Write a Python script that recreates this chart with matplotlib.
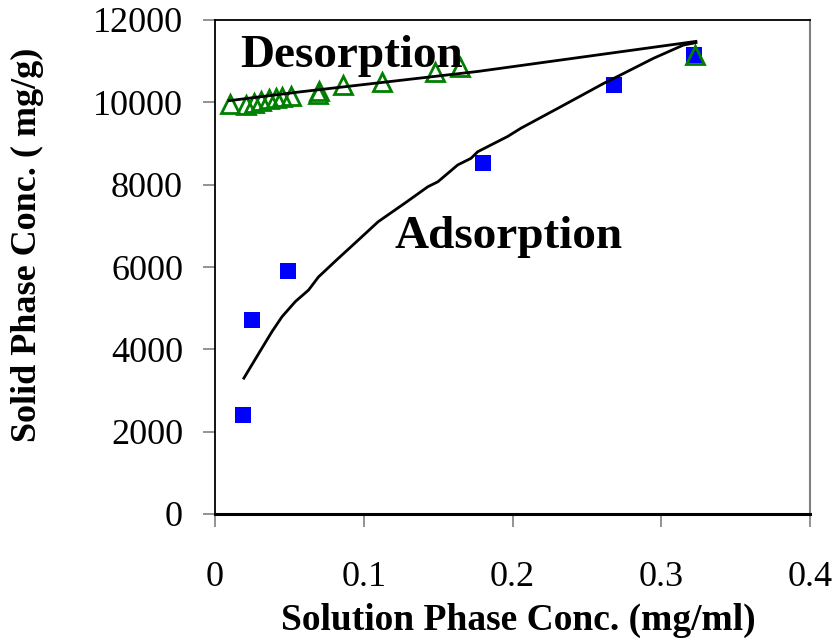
import numpy as np
import matplotlib
matplotlib.use('Agg')
import matplotlib.pyplot as plt

ads_c = [0.019, 0.025, 0.049, 0.180, 0.268, 0.322]
ads_q = [2400, 4720, 5900, 8530, 10420, 11150]

des_c = [0.010, 0.021, 0.026, 0.031, 0.036, 0.041, 0.045, 0.051,
         0.069, 0.070, 0.086, 0.112, 0.148, 0.165, 0.3225]
des_q = [9960, 9940, 9980, 10030, 10080, 10100, 10130, 10160,
         10200, 10280, 10420, 10490, 10740, 10860, 11150]

# fitted isotherm curves (traced)
ads_fit_c = [0.0194, 0.0294, 0.0383, 0.0450, 0.0540, 0.0629, 0.0696, 0.0829,
             0.0941, 0.1097, 0.1276, 0.1431, 0.1498, 0.1632, 0.1721, 0.1766,
             0.1967, 0.2056, 0.2323, 0.2613, 0.2724, 0.2948, 0.3148, 0.3233]
ads_fit_q = [3300, 3900, 4430, 4790, 5160, 5440, 5760, 6210,
             6580, 7100, 7550, 7950, 8070, 8480, 8640, 8800,
             9170, 9370, 9890, 10460, 10660, 11070, 11390, 11450]

des_fit_c = [0.0094, 0.0562, 0.1766, 0.3233]
des_fit_q = [10040, 10250, 10750, 11480]

serif = 'Liberation Serif'

fig = plt.figure(figsize=(8.38, 6.42), dpi=100)
ax = fig.add_axes([215/838, 1-514/642, (810-215)/838, (514-20)/642])

ax.plot(ads_c, ads_q, 's', color='#0000ff', markersize=12, markeredgewidth=0, zorder=2)
ax.plot(des_c, des_q, '^', markerfacecolor='none', markeredgecolor='#008000',
        markersize=13.5, markeredgewidth=2.0, zorder=3)
ax.plot(ads_fit_c, ads_fit_q, 'k-', lw=2.0, zorder=4)
ax.plot(des_fit_c, des_fit_q, 'k-', lw=2.0, zorder=4)

ax.text(0.0167, 10865, 'Desorption', fontsize=34, fontweight='bold',
        family=serif, ha='left', va='baseline')
ax.text(0.121, 6460, 'Adsorption', fontsize=34, fontweight='bold',
        family=serif, ha='left', va='baseline')

ax.set_xlim(0, 0.4)
ax.set_ylim(0, 12000)
ax.set_xticks(np.arange(0, 0.41, 0.1))
ax.set_xticklabels(['0', '0.1', '0.2', '0.3', '0.4'])
ax.set_yticks(np.arange(0, 12001, 2000))
ax.set_yticklabels([str(v) for v in range(0, 12001, 2000)])

for lab in ax.get_xticklabels() + ax.get_yticklabels():
    lab.set_family(serif)
    lab.set_fontsize(26)

ax.tick_params(axis='x', direction='out', length=9, width=1.2, color='#808080', pad=25)
ax.tick_params(axis='y', direction='out', length=9, width=1.2, color='#808080', pad=14)

ax.spines['left'].set_linewidth(1.3)
ax.spines['bottom'].set_linewidth(2.2)
ax.spines['top'].set_linewidth(1.3)
ax.spines['right'].set_linewidth(1.5)
ax.spines['right'].set_color('#808080')

ax.set_xlabel('Solution Phase Conc. (mg/ml)', fontsize=27, fontweight='bold',
              family=serif)
ax.xaxis.set_label_coords(0.51, -0.18)
ax.set_ylabel('Solid Phase Conc. ( mg/g)', fontsize=26, fontweight='bold',
              family=serif)
ax.yaxis.set_label_coords(-0.287, 0.545)

plt.savefig('out.png', dpi=100)
